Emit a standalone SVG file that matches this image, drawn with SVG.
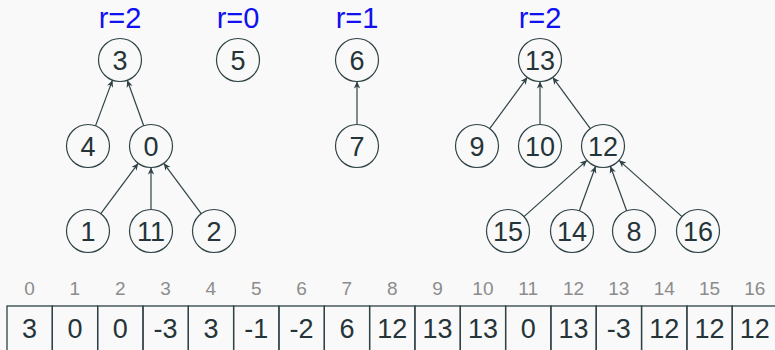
<svg xmlns="http://www.w3.org/2000/svg" width="775" height="350" viewBox="0 0 775 350">
<defs>
<style>
.bg{fill:#f9f9f9}
.node circle{fill:none;stroke:#2f4246;stroke-width:1.2}
.node text{font-family:"Liberation Sans",Arial,sans-serif;font-size:27px;fill:#253438;text-anchor:middle}
.edges line{stroke:#2f4246;stroke-width:1.2;marker-end:url(#arr)}
.rl{font-family:"Liberation Sans",Arial,sans-serif;font-size:29px;fill:#1010f0;text-anchor:middle}
.cell rect{fill:none;stroke:#2f4246;stroke-width:1.3}
.cell text{font-family:"Liberation Sans",Arial,sans-serif;font-size:27px;fill:#253438;text-anchor:middle}
.idx{font-family:"Liberation Sans",Arial,sans-serif;font-size:19px;fill:#8c8c8c;text-anchor:middle}
</style>
<marker id="arr" markerWidth="10" markerHeight="8" refX="8" refY="4" orient="auto" markerUnits="userSpaceOnUse">
<path d="M8,4 L1,0.8 L3,4 L1,7.2 Z" fill="#2f4246"/>
</marker>
</defs>
<rect class="bg" x="0" y="0" width="775" height="350"/>

<text class="rl" x="120" y="28">r=2</text>
<text class="rl" x="238" y="28">r=0</text>
<text class="rl" x="357" y="28">r=1</text>
<text class="rl" x="540" y="28">r=2</text>

<g id="edges" class="edges">
<line x1="95.5" y1="125.85" x2="112.5" y2="80.15"/>
<line x1="143.71" y1="125.77" x2="127.29" y2="80.23"/>
<line x1="100.8" y1="213.73" x2="138.2" y2="163.27"/>
<line x1="151" y1="209.5" x2="151" y2="167.5"/>
<line x1="201.2" y1="213.73" x2="163.8" y2="163.27"/>
<line x1="357" y1="124.5" x2="357" y2="81.5"/>
<line x1="489.71" y1="128.66" x2="527.29" y2="77.34"/>
<line x1="540" y1="124.5" x2="540" y2="81.5"/>
<line x1="590.29" y1="128.66" x2="552.71" y2="77.34"/>
<line x1="524.02" y1="216.66" x2="586.98" y2="160.34"/>
<line x1="579.37" y1="210.8" x2="595.63" y2="166.2"/>
<line x1="626.63" y1="210.8" x2="610.37" y2="166.2"/>
<line x1="681.98" y1="216.66" x2="619.02" y2="160.34"/>
</g>

<g id="n3" class="node"><circle cx="120" cy="60" r="21.5"/><text x="120" y="70">3</text></g>
<g id="n5" class="node"><circle cx="238" cy="60" r="21.5"/><text x="238" y="70">5</text></g>
<g id="n6" class="node"><circle cx="357" cy="60" r="21.5"/><text x="357" y="70">6</text></g>
<g id="n13" class="node"><circle cx="540" cy="60" r="21.5"/><text x="540" y="70">13</text></g>
<g id="n4" class="node"><circle cx="88" cy="146" r="21.5"/><text x="88" y="156">4</text></g>
<g id="n0" class="node"><circle cx="151" cy="146" r="21.5"/><text x="151" y="156">0</text></g>
<g id="n7" class="node"><circle cx="357" cy="146" r="21.5"/><text x="357" y="156">7</text></g>
<g id="n9" class="node"><circle cx="477" cy="146" r="21.5"/><text x="477" y="156">9</text></g>
<g id="n10" class="node"><circle cx="540" cy="146" r="21.5"/><text x="540" y="156">10</text></g>
<g id="n12" class="node"><circle cx="603" cy="146" r="21.5"/><text x="603" y="156">12</text></g>
<g id="n1" class="node"><circle cx="88" cy="231" r="21.5"/><text x="88" y="241">1</text></g>
<g id="n11" class="node"><circle cx="151" cy="231" r="21.5"/><text x="151" y="241">11</text></g>
<g id="n2" class="node"><circle cx="214" cy="231" r="21.5"/><text x="214" y="241">2</text></g>
<g id="n15" class="node"><circle cx="508" cy="231" r="21.5"/><text x="508" y="241">15</text></g>
<g id="n14" class="node"><circle cx="572" cy="231" r="21.5"/><text x="572" y="241">14</text></g>
<g id="n8" class="node"><circle cx="634" cy="231" r="21.5"/><text x="634" y="241">8</text></g>
<g id="n16" class="node"><circle cx="698" cy="231" r="21.5"/><text x="698" y="241">16</text></g>

<g id="indices">
<text class="idx" x="29.6" y="295">0</text>
<text class="idx" x="74.9" y="295">1</text>
<text class="idx" x="120.3" y="295">2</text>
<text class="idx" x="165.6" y="295">3</text>
<text class="idx" x="210.9" y="295">4</text>
<text class="idx" x="256.2" y="295">5</text>
<text class="idx" x="301.6" y="295">6</text>
<text class="idx" x="346.9" y="295">7</text>
<text class="idx" x="392.2" y="295">8</text>
<text class="idx" x="437.5" y="295">9</text>
<text class="idx" x="482.9" y="295">10</text>
<text class="idx" x="528.2" y="295">11</text>
<text class="idx" x="573.5" y="295">12</text>
<text class="idx" x="618.8" y="295">13</text>
<text class="idx" x="664.2" y="295">14</text>
<text class="idx" x="709.5" y="295">15</text>
<text class="idx" x="754.8" y="295">16</text>
</g>

<g id="array" class="cell">
<rect x="7" y="306" width="45.33" height="48"/><text x="29.6" y="338">3</text>
<rect x="52.3" y="306" width="45.33" height="48"/><text x="74.9" y="338">0</text>
<rect x="97.7" y="306" width="45.33" height="48"/><text x="120.3" y="338">0</text>
<rect x="143" y="306" width="45.33" height="48"/><text x="165.6" y="338">-3</text>
<rect x="188.3" y="306" width="45.33" height="48"/><text x="210.9" y="338">3</text>
<rect x="233.6" y="306" width="45.33" height="48"/><text x="256.2" y="338">-1</text>
<rect x="279" y="306" width="45.33" height="48"/><text x="301.6" y="338">-2</text>
<rect x="324.3" y="306" width="45.33" height="48"/><text x="346.9" y="338">6</text>
<rect x="369.6" y="306" width="45.33" height="48"/><text x="392.2" y="338">12</text>
<rect x="414.9" y="306" width="45.33" height="48"/><text x="437.5" y="338">13</text>
<rect x="460.3" y="306" width="45.33" height="48"/><text x="482.9" y="338">13</text>
<rect x="505.6" y="306" width="45.33" height="48"/><text x="528.2" y="338">0</text>
<rect x="550.9" y="306" width="45.33" height="48"/><text x="573.5" y="338">13</text>
<rect x="596.2" y="306" width="45.33" height="48"/><text x="618.8" y="338">-3</text>
<rect x="641.6" y="306" width="45.33" height="48"/><text x="664.2" y="338">12</text>
<rect x="686.9" y="306" width="45.33" height="48"/><text x="709.5" y="338">12</text>
<rect x="732.2" y="306" width="45.33" height="48"/><text x="754.8" y="338">12</text>
</g>
</svg>
